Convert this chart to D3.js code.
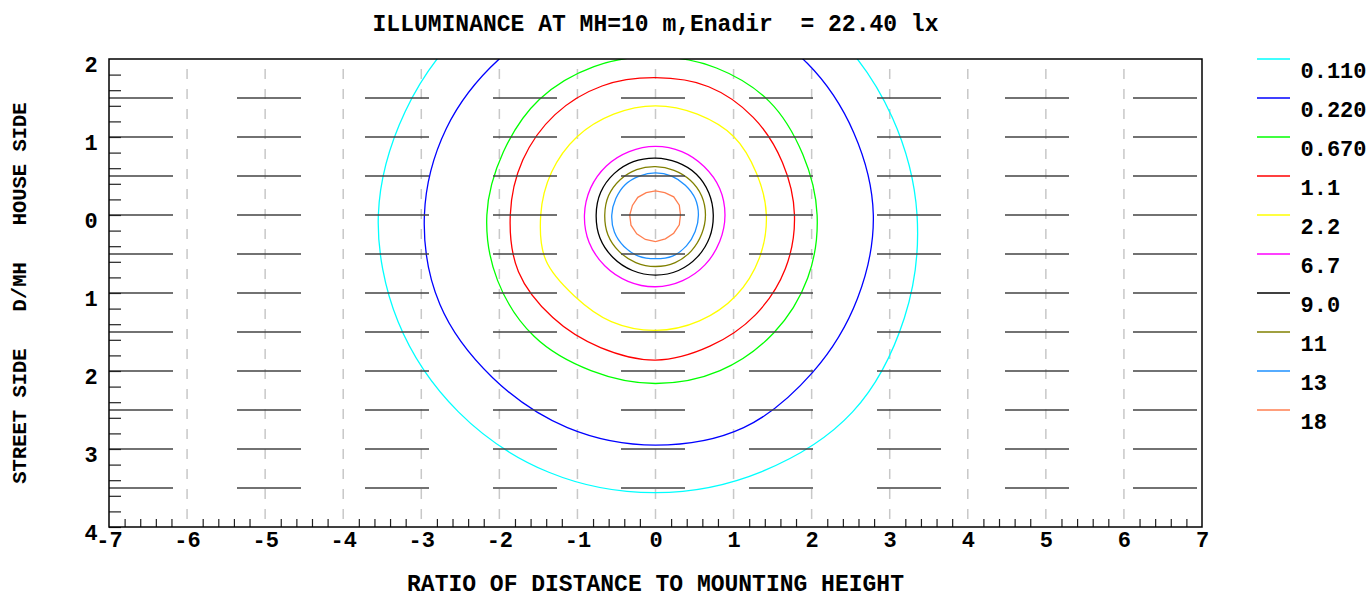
<!DOCTYPE html>
<html>
<head>
<meta charset="utf-8">
<script src="https://cdn.jsdelivr.net/npm/d3@7"></script>
<style>
  body { margin: 0; background: #fff; }
  svg { display: block; }
  text { font-family: "Liberation Mono", monospace; font-weight: bold; fill: #000; }
</style>
</head>
<body>
<svg id="chart" width="1372" height="597"></svg>
<script>
// contour levels (lx) and their colours
const levels = ["0.110", "0.220", "0.670", "1.1", "2.2", "6.7", "9.0", "11", "13", "18"];
const levelColors = ["#00ffff", "#0000ff", "#00ff00", "#ff0000", "#ffff00", "#ff00ff", "#000000", "#808000", "#1e90ff", "#ff7f50"];

// radius (D/MH) of every iso-lux line, read every 22.5 deg, starting at +x, counter clockwise
const angles = [0, 22.5, 45, 67.5, 90, 112.5, 135, 157.5, 180, 202.5, 225, 247.5, 270, 292.5, 315, 337.5];
const r0110 = [3.35, 3.28, 3.27, 3.30, 3.35, 3.38, 3.42, 3.47, 3.55, 3.57, 3.57, 3.57, 3.56, 3.56, 3.57, 3.45];
const r0220 = [2.79, 2.75, 2.75, 2.76, 2.78, 2.80, 2.83, 2.90, 2.96, 2.99, 2.95, 2.95, 2.95, 2.95, 2.85, 2.80];
const r0670 = [2.07, 2.04, 2.06, 2.04, 2.03, 2.06, 2.10, 2.11, 2.16, 2.19, 2.20, 2.16, 2.16, 2.16, 2.14, 2.11];
const r1_1  = [1.78, 1.76, 1.77, 1.78, 1.76, 1.79, 1.82, 1.84, 1.86, 1.90, 1.86, 1.84, 1.86, 1.82, 1.81, 1.80];
const r2_2  = [1.42, 1.40, 1.42, 1.40, 1.40, 1.40, 1.42, 1.44, 1.47, 1.52, 1.47, 1.48, 1.48, 1.47, 1.46, 1.44];
const r6_7  = [0.89, 0.89, 0.88, 0.88, 0.88, 0.88, 0.89, 0.90, 0.91, 0.92, 0.92, 0.92, 0.92, 0.91, 0.90, 0.89];
const r9_0  = [0.74, 0.74, 0.74, 0.73, 0.73, 0.74, 0.75, 0.76, 0.76, 0.77, 0.77, 0.77, 0.77, 0.77, 0.76, 0.75];
const r11   = [0.64, 0.64, 0.63, 0.62, 0.62, 0.63, 0.64, 0.65, 0.65, 0.66, 0.66, 0.66, 0.66, 0.66, 0.65, 0.64];
const r13   = [0.55, 0.55, 0.54, 0.54, 0.54, 0.54, 0.55, 0.55, 0.56, 0.57, 0.57, 0.57, 0.56, 0.57, 0.56, 0.55];
const r18   = [0.32, 0.33, 0.33, 0.31, 0.31, 0.31, 0.32, 0.32, 0.33, 0.34, 0.34, 0.34, 0.34, 0.33, 0.33, 0.33];
const radii = [r0110, r0220, r0670, r1_1, r2_2, r6_7, r9_0, r11, r13, r18];

// axis ticks and grid
const xTicks = [-7, -6, -5, -4, -3, -2, -1, 0, 1, 2, 3, 4, 5, 6, 7];
const yTicks = [-4, -3, -2, -1, 0, 1, 2];
const xGrid = [-6, -5, -4, -3, -2, -1, 0, 1, 2, 3, 4, 5, 6];
const yGrid = [1.5, 1, 0.5, 0, -0.5, -1, -1.5, -2, -2.5, -3, -3.5];

const titleText = "ILLUMINANCE AT MH=10 m,Enadir  = 22.40 lx";
const xLabel = "RATIO OF DISTANCE TO MOUNTING HEIGHT";
const yLabel = "STREET SIDE   D/MH   HOUSE SIDE";

let svg = d3.select("#chart");
let pLeft = 109, pRight = 1202, pTop = 59, pBottom = 527;

let x = d3.scaleLinear().domain([-7, 7]).range([pLeft, pRight]);
let y = d3.scaleLinear().domain([-4, 2]).range([pBottom, pTop]);

svg.append("clipPath").attr("id", "plotClip")
  .append("rect")
  .attr("x", pLeft).attr("y", pTop)
  .attr("width", pRight - pLeft).attr("height", pBottom - pTop);

// vertical dashed grid
svg.selectAll(".vgrid")
  .data(xGrid)
  .enter().append("line")
  .attr("class", "vgrid")
  .attr("x1", d => x(d)).attr("x2", d => x(d))
  .attr("y1", pTop).attr("y2", pBottom)
  .style("stroke", "#c8c8c8")
  .style("stroke-width", 1.5)
  .style("stroke-dasharray", "10,10")
  .style("stroke-dashoffset", 10);

// iso-lux lines
let contourLine = d3.line()
  .x(d => x(d[0]))
  .y(d => y(d[1]))
  .curve(d3.curveCatmullRomClosed);
let polyLine = d3.line()
  .x(d => x(d[0]))
  .y(d => y(d[1]))
  .curve(d3.curveLinearClosed);

let contours = svg.append("g").attr("clip-path", "url(#plotClip)");
radii.forEach(function(r, i) {
  let pts = angles.map((a, j) => [r[j] * Math.cos(a * Math.PI / 180), r[j] * Math.sin(a * Math.PI / 180)]);
  contours.append("path")
    .attr("d", i == radii.length - 1 ? polyLine(pts) : contourLine(pts))
    .style("fill", "none")
    .style("stroke", levelColors[i])
    .style("stroke-width", 1.3);
});

// horizontal long-dash grid (drawn over contours)
svg.selectAll(".hgrid")
  .data(yGrid)
  .enter().append("line")
  .attr("class", "hgrid")
  .attr("x1", pLeft).attr("x2", pRight)
  .attr("y1", d => y(d)).attr("y2", d => y(d))
  .style("stroke", "#444")
  .style("stroke-width", 1.3)
  .style("stroke-dasharray", "64,64");

// minor ticks every 0.2
let xMinor = d3.range(-35, 36).filter(i => i % 5 != 0).map(i => i / 5);
let yMinor = d3.range(-20, 10).map(i => i / 5);

svg.append("g")
  .attr("transform", "translate(0," + pBottom + ")")
  .call(d3.axisTop(x).tickValues(xMinor).tickSize(8).tickFormat(""))
  .call(g => g.select(".domain").remove())
  .selectAll("line").style("stroke", "#222").style("stroke-width", 1.2);

svg.append("g")
  .attr("transform", "translate(" + pLeft + ",0)")
  .call(d3.axisRight(y).tickValues(yMinor).tickSize(12).tickFormat(""))
  .call(g => g.select(".domain").remove())
  .selectAll("line").style("stroke", "#222").style("stroke-width", 1.2);

// frame
svg.append("rect")
  .attr("x", pLeft).attr("y", pTop)
  .attr("width", pRight - pLeft).attr("height", pBottom - pTop)
  .style("fill", "none")
  .style("stroke", "#000")
  .style("stroke-width", 1.5);

// tick labels
let xAxis = svg.append("g")
  .attr("transform", "translate(0," + pBottom + ")")
  .call(d3.axisBottom(x).tickValues(xTicks).tickSize(0).tickFormat(d => String(d)));
xAxis.select(".domain").remove();
xAxis.selectAll("text")
  .attr("y", 0).attr("dy", 20)
  .style("font-family", "Liberation Mono")
  .style("font-weight", "bold")
  .style("font-size", "22px")
  .style("fill", "#000");

let yAxis = svg.append("g")
  .attr("transform", "translate(" + pLeft + ",0)")
  .call(d3.axisLeft(y).tickValues(yTicks).tickSize(0).tickFormat(d => String(Math.abs(d))));
yAxis.select(".domain").remove();
yAxis.selectAll("text")
  .attr("x", -18).attr("dy", 12)
  .style("text-anchor", "middle")
  .style("font-family", "Liberation Mono")
  .style("font-weight", "bold")
  .style("font-size", "22px")
  .style("fill", "#000");

// titles
svg.append("text")
  .attr("x", 655.5).attr("y", 31)
  .style("text-anchor", "middle")
  .style("font-size", "23px")
  .style("white-space", "pre")
  .text(titleText);

svg.append("text")
  .attr("x", 655.5).attr("y", 591)
  .style("text-anchor", "middle")
  .style("font-size", "23px")
  .text(xLabel);

svg.append("text")
  .attr("transform", "translate(25.5,293) rotate(-90)")
  .style("text-anchor", "middle")
  .style("font-size", "20.5px")
  .style("white-space", "pre")
  .text(yLabel);

// legend
let legend = svg.append("g");
levels.forEach(function(lv, i) {
  let ly = pTop + i * 39;
  legend.append("line")
    .attr("x1", 1257).attr("x2", 1290)
    .attr("y1", ly).attr("y2", ly)
    .style("stroke", levelColors[i])
    .style("stroke-width", 1.5);
  legend.append("text")
    .attr("x", 1300.5).attr("y", ly + 19)
    .style("font-size", "22px")
    .text(lv);
});
</script>
</body>
</html>
